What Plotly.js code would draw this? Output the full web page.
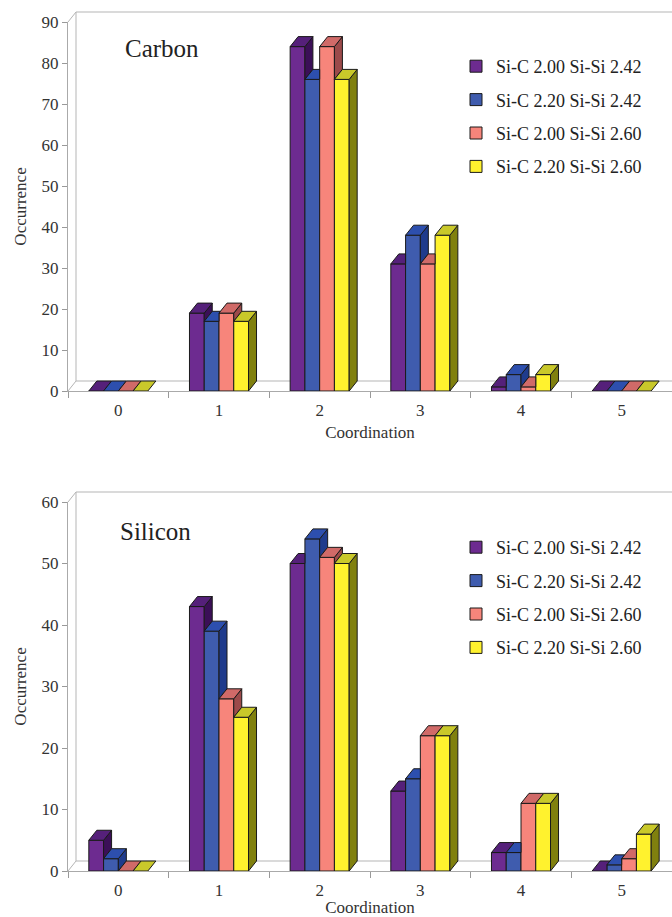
<!DOCTYPE html>
<html>
<head>
<meta charset="utf-8">
<script src="https://cdn.plot.ly/plotly-3.0.1.min.js"></script>
<style>html,body{margin:0;padding:0;background:#fff;}#chart{width:672px;height:917px;}</style>
</head>
<body>
<div id="chart"></div>
<script>
// ---- data ----
const categories = ['0', '1', '2', '3', '4', '5'];
const seriesNames = ['Si-C 2.00 Si-Si 2.42', 'Si-C 2.20 Si-Si 2.42', 'Si-C 2.00 Si-Si 2.60', 'Si-C 2.20 Si-Si 2.60'];
const panelTitles = ['Carbon', 'Silicon'];
const xAxisTitle = 'Coordination';
const yAxisTitle = 'Occurrence';

const carbonA = [0, 19, 84, 31, 1, 0];
const carbonB = [0, 17, 76, 38, 4, 0];
const carbonC = [0, 19, 84, 31, 1, 0];
const carbonD = [0, 17, 76, 38, 4, 0];

const siliconA = [5, 43, 50, 13, 3, 0];
const siliconB = [2, 39, 54, 15, 3, 1];
const siliconC = [0, 28, 51, 22, 11, 2];
const siliconD = [0, 25, 50, 22, 11, 6];

const carbonMax = 90;
const siliconMax = 60;

// ---- styles ----
const frontColors = ['#6d2b90', '#3f5cae', '#f7857b', '#fff22e'];
const topColors   = ['#55207a', '#2d4fae', '#d06a68', '#c9c82a'];
const sideColors  = ['#3b0f57', '#1f3b8c', '#9c4a4a', '#80800e'];
const edge = '#1a1a1a';
const serif = 'Liberation Serif';

const W = 672, H = 917;
const M = {l: 68, r: 0, t: 22, b: 46};
const plotW = W - M.l - M.r;           // 604
const plotH = H - M.t - M.b;           // 849
const panelH = 369;
const topDomain = [(plotH - panelH) / plotH, 1];
const botDomain = [0, panelH / plotH];
const depthX = 8, depthY = 10;          // pixel depth of the 3D effect
const barW = 0.1466;                    // bar width in category units

const panels = [
  {series: [carbonA, carbonB, carbonC, carbonD], max: carbonMax, xa: 'x', ya: 'y', legend: 'legend'},
  {series: [siliconA, siliconB, siliconC, siliconD], max: siliconMax, xa: 'x2', ya: 'y2', legend: 'legend2'}
];

const traces = [];
const shapes = [];
const pxX = plotW / categories.length;

panels.forEach((p, pi) => {
  const dxD = depthX / pxX;
  const dyD = depthY / (panelH / p.max);
  p.series.forEach((vals, si) => {
    traces.push({
      type: 'bar', x: categories, y: vals, name: seriesNames[si],
      xaxis: p.xa, yaxis: p.ya, legend: p.legend, legendgroup: 'g' + pi + si,
      offset: -2 * barW + si * barW, width: barW,
      marker: {color: frontColors[si], line: {color: edge, width: 1}},
      hoverinfo: 'x+y+name'
    });
  });
  // 3D faces (side + top), computed from the data values
  categories.forEach((c, ci) => {
    for (let si = 0; si < 4; si++) {
      const v = p.series[si][ci];
      const vn = si < 3 ? p.series[si + 1][ci] : 0;
      const xl = ci - 2 * barW + si * barW;
      const xr = xl + barW;
      if (v > vn) {
        shapes.push({
          type: 'path', xref: p.xa, yref: p.ya, layer: 'above',
          path: `M${xr},${vn} L${xr},${v} L${xr + dxD},${v + dyD} L${xr + dxD},${vn + dyD} Z`,
          fillcolor: sideColors[si], line: {color: edge, width: 1}
        });
      }
      let path;
      if (si < 3 && vn > v) {
        const yc = Math.min(vn, v + dyD);
        const xc = xr + Math.max(0, v + dyD - vn) / dyD * dxD;
        path = `M${xl},${v} L${xr},${v} L${xr},${yc} L${xc},${v + dyD} L${xl + dxD},${v + dyD} Z`;
      } else {
        path = `M${xl},${v} L${xr},${v} L${xr + dxD},${v + dyD} L${xl + dxD},${v + dyD} Z`;
      }
      shapes.push({
        type: 'path', xref: p.xa, yref: p.ya, layer: 'above', path: path,
        fillcolor: topColors[si], line: {color: edge, width: 1}
      });
    }
  });
  // back wall / floor frame
  const xd = p.xa + ' domain', yd = p.ya + ' domain';
  const frame = [
    `M0,0 L${depthX},${depthY} L${plotW},${depthY}`,
    `M0,${panelH} L${depthX},${panelH + depthY} L${plotW},${panelH + depthY}`,
    `M${depthX},${depthY} L${depthX},${panelH + depthY}`
  ];
  frame.forEach(fp => shapes.push({
    type: 'path', xref: xd, yref: yd, xsizemode: 'pixel', ysizemode: 'pixel',
    xanchor: 0, yanchor: 0, path: fp, layer: 'below',
    line: {color: '#b5b5b5', width: 1}
  }));
});

const tickFont = () => ({family: serif, size: 17, color: '#333'});
function xAxis(anchor) {
  return {
    type: 'category', anchor: anchor, domain: [0, 1], range: [-0.5, 5.5],
    tickson: 'boundaries', ticks: 'outside', ticklen: 6, tickcolor: '#999',
    ticklabelstandoff: 4,
    showline: true, linecolor: '#aaa', linewidth: 1, showgrid: false, zeroline: false,
    tickfont: tickFont(), fixedrange: true,
    title: {text: xAxisTitle, font: {family: serif, size: 17, color: '#333'}, standoff: 6}
  };
}
function yAxis(anchor, domain, max) {
  return {
    anchor: anchor, domain: domain, range: [0, max], dtick: 10,
    ticks: 'outside', ticklen: 5, tickcolor: '#999',
    showline: true, linecolor: '#aaa', linewidth: 1, showgrid: false, zeroline: false,
    tickfont: tickFont(), fixedrange: true,
    title: {text: yAxisTitle, font: {family: serif, size: 17, color: '#333'}, standoff: 10}
  };
}
function legendStyle(y) {
  return {
    xanchor: 'left', yanchor: 'top', x: (456 - M.l) / plotW, y: y,
    font: {family: serif, size: 18, color: '#222'},
    bgcolor: 'rgba(255,255,255,0)', borderwidth: 0, tracegroupgap: 7
  };
}

const layout = {
  width: W, height: H, margin: M,
  font: {family: serif},
  paper_bgcolor: '#fff', plot_bgcolor: 'rgba(0,0,0,0)',
  barmode: 'overlay', showlegend: true,
  xaxis: xAxis('y'), yaxis: yAxis('x', topDomain, carbonMax),
  xaxis2: xAxis('y2'), yaxis2: yAxis('x2', botDomain, siliconMax),
  legend: legendStyle((H - M.b - 48) / plotH),
  legend2: legendStyle((H - M.b - 529) / plotH),
  shapes: shapes,
  annotations: [
    {text: panelTitles[0], xref: 'x domain', yref: 'y domain', x: (123 - M.l) / plotW, y: (391 - 49) / panelH,
     xanchor: 'left', yanchor: 'middle', showarrow: false, font: {family: serif, size: 25, color: '#222'}},
    {text: panelTitles[1], xref: 'x2 domain', yref: 'y2 domain', x: (118 - M.l) / plotW, y: (871 - 531) / panelH,
     xanchor: 'left', yanchor: 'middle', showarrow: false, font: {family: serif, size: 25, color: '#222'}}
  ]
};

Plotly.newPlot('chart', traces, layout, {displayModeBar: false, responsive: false});
</script>
</body>
</html>
